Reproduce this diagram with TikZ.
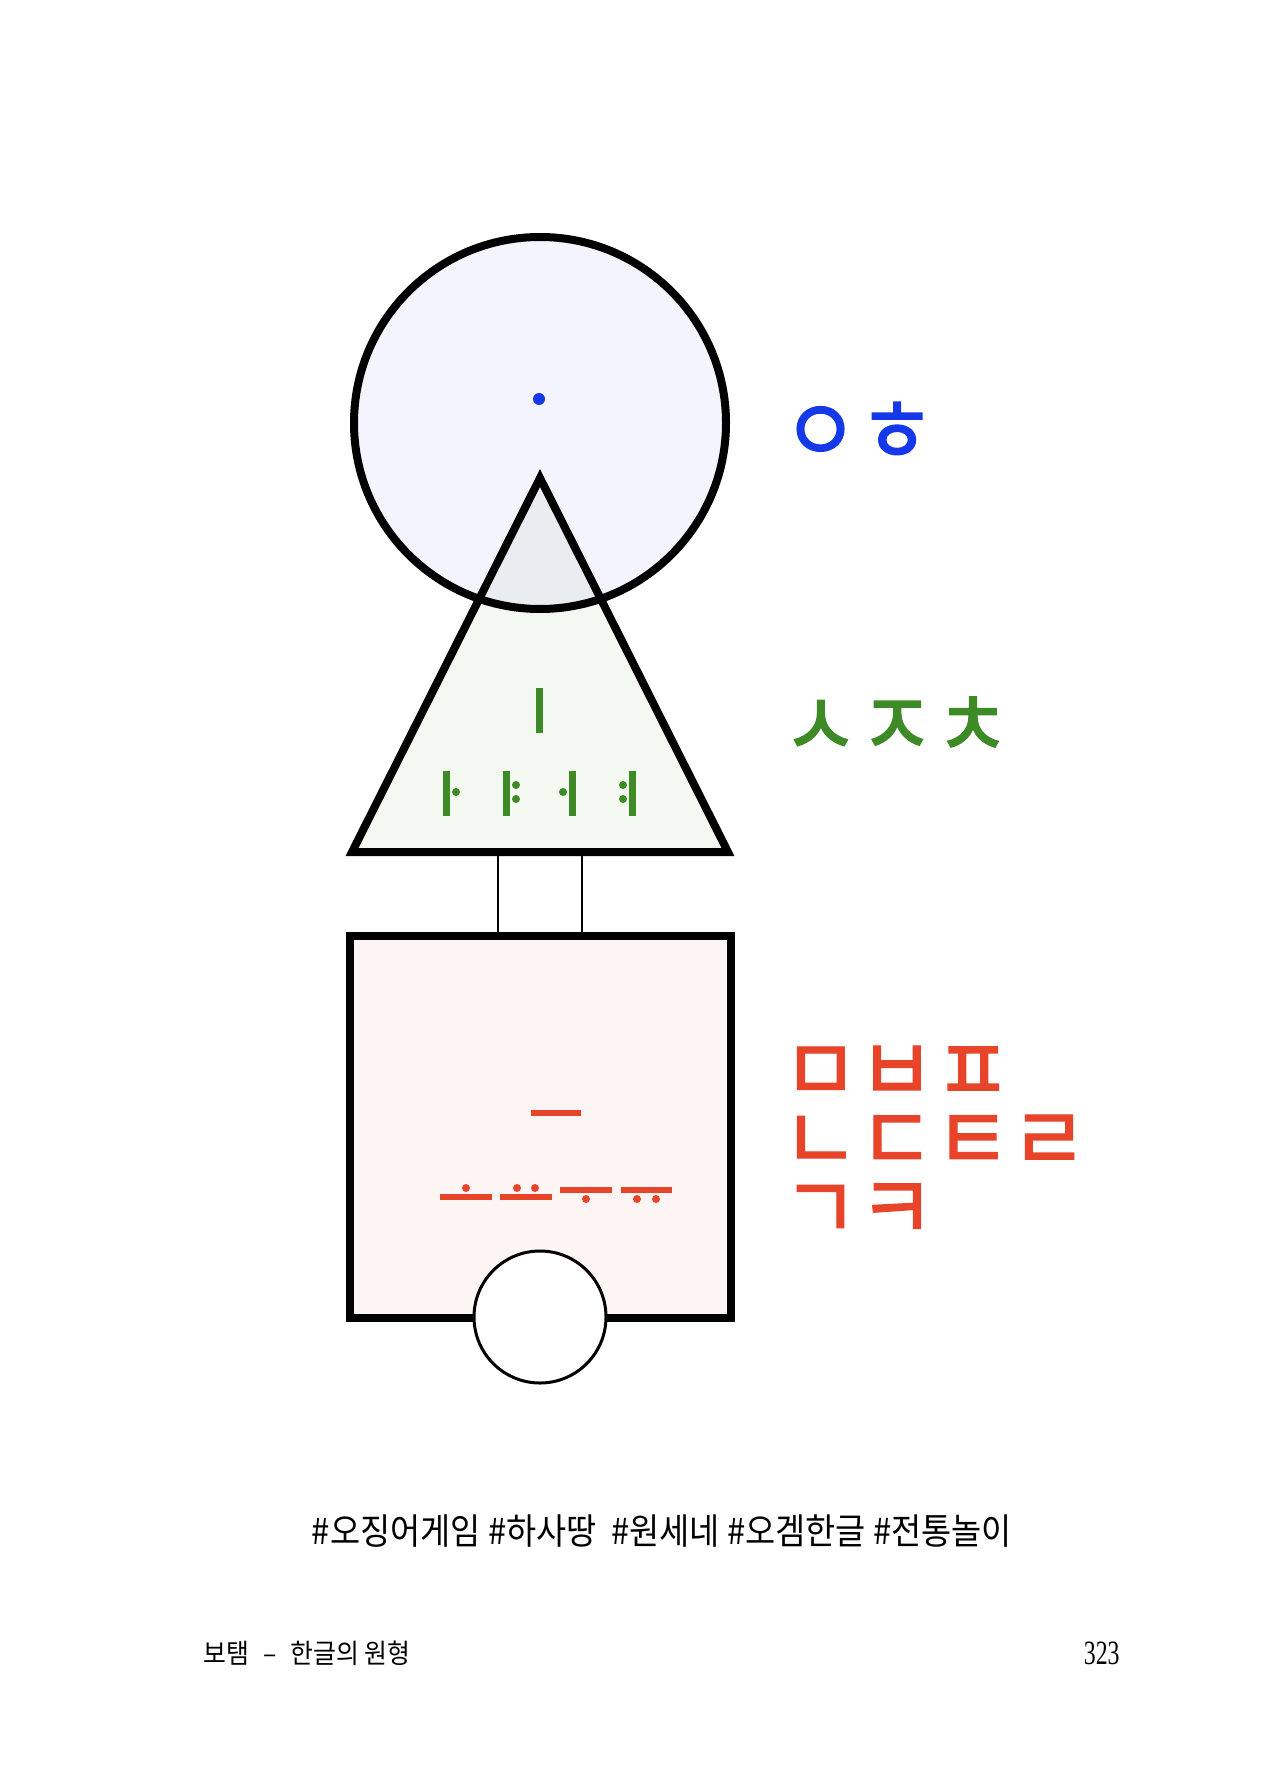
\documentclass[tikz,border=0pt]{standalone}
\usepackage{fontspec}
\setmainfont{Noto Sans CJK KR}
\newfontfamily\jamofont[FakeStretch=0.92,FakeBold=1.5]{Noto Sans CJK KR}
\newfontfamily\tagfont[FakeStretch=0.91]{Noto Sans CJK KR}
\newfontfamily\headfont[FakeStretch=0.92]{Noto Sans CJK KR}
\newfontfamily\pagefont[FakeStretch=0.7]{Liberation Serif}
\pgfdeclarelayer{background}
\pgfsetlayers{background,main}
\definecolor{jamoblue}{HTML}{1538E8}
\definecolor{jamogreen}{HTML}{3E8A26}
\definecolor{jamored}{HTML}{E8442A}
\definecolor{headfill}{HTML}{F3F4FD}
\definecolor{bodyfill}{HTML}{F3F8F1}
\definecolor{mixfill}{HTML}{E9EDF0}
\definecolor{footfill}{HTML}{FDF5F3}
\tikzset{
   outline/.style ={
      draw=black, line width=4pt, line join=miter,
   },
   link/.style ={
      -, line width=1pt, color=black,
   },
   jamo/.style ={
      font=\jamofont\fontsize{45pt}{34.5pt}\selectfont,
      inner sep=0pt, anchor=base west,
      text height=24pt, text depth=0pt,
   },
   greenbar/.style ={
      line width=3.5pt, color=jamogreen,
   },
   redbar/.style ={
      line width=3pt, color=jamored,
   },
}

\begin{document}
\begin{tikzpicture}[x=0.5pt,y=-0.5pt]

      \useasboundingbox (0,0) rectangle (1280,1791);

      % sky: circle
      \node[
         circle,
         outline,
         inner sep=0pt,
         minimum size=186pt,
      ] (head) at (540,423){};

      % person: triangle
      \coordinate (apex) at (540,478);
      \coordinate (tri-l) at (352,852);
      \coordinate (tri-r) at (728,852);
      \draw[outline] (apex) -- (tri-l) -- (tri-r) -- cycle;

      % earth: square
      \node[
         rectangle,
         outline,
         fill=footfill,
         inner sep=0pt,
         minimum width=190.5pt,
         minimum height=191pt,
      ] (foot) at (540.5,1127){};

      \node[
         circle,
         draw,
         fill=white,
         line width=1.5pt,
         inner sep=0pt,
         minimum size=66pt,
      ] (hole) at (540,1317){};

      \begin{pgfonlayer}{background}
         \fill[headfill] (head.center) circle (93pt);
         \fill[bodyfill] (apex) -- (tri-l) -- (tri-r) -- cycle;
         \begin{scope}
            \clip (head.center) circle (93pt);
            \fill[mixfill] (apex) -- (tri-l) -- (tri-r) -- cycle;
         \end{scope}
      \end{pgfonlayer}

      % legs
      \coordinate (leg-l) at (498,852);
      \coordinate (leg-r) at (582,852);
      \draw[link] (leg-l) -- (leg-l |- foot.north);
      \draw[link] (leg-r) -- (leg-r |- foot.north);

      % vowel marks
      \fill[jamoblue] (539,399) circle (3pt);

      \draw[greenbar] (539,688) -- (539,733);
      \foreach \x in {446,506,572,632}
         \draw[greenbar] (\x,771) -- (\x,816);
      \fill[jamogreen] (456,792) circle (2pt);
      \fill[jamogreen] (516,785) circle (2pt) (516,799) circle (2pt);
      \fill[jamogreen] (563,792) circle (2pt);
      \fill[jamogreen] (623,785) circle (2pt) (623,799) circle (2pt);

      \draw[redbar] (531,1113) -- (581,1113);
      \draw[redbar] (440,1197) -- (492,1197);
      \draw[redbar] (500,1197) -- (552,1197);
      \draw[redbar] (560,1190) -- (612,1190);
      \draw[redbar] (621,1190) -- (672,1190);
      \fill[jamored] (466,1188) circle (2pt);
      \fill[jamored] (517,1188) circle (2pt) (535,1188) circle (2pt);
      \fill[jamored] (586,1199) circle (2pt);
      \fill[jamored] (637,1199) circle (2pt) (656,1199) circle (2pt);

      % consonant labels
      \node[jamo, text=jamoblue] (sky-cons) at (782,463){ㅇㅎ};
      \node[jamo, text=jamogreen] (man-cons) at (782,757){ㅅㅈㅊ};
      \node[jamo, text=jamored] (earth-lips) at (782,1102){ㅁㅂㅍ};
      \node[jamo, text=jamored] (earth-tongue) at (782,1171){ㄴㄷㅌㄹ};
      \node[jamo, text=jamored] (earth-root) at (782,1240){ㄱㅋ};

      % captions
      \node[
         font=\tagfont\fontsize{18pt}{20pt}\selectfont,
         inner sep=0pt,
         anchor=base,
      ] (tags) at (662,1544){\#오징어게임 \#하사땅\ \ \#원세네 \#오겜한글 \#전통놀이};

      \node[
         font=\headfont\fontsize{13.5pt}{15pt}\selectfont,
         inner sep=0pt,
         anchor=base west,
      ] (runhead) at (203,1663){보탬\hspace{7pt}–\hspace{7pt}한글의 원형};

      \node[
         font=\pagefont\fontsize{17pt}{18pt}\selectfont,
         inner sep=0pt,
         anchor=base east,
      ] (folio) at (1120,1664){323};

   \end{tikzpicture}
\end{document}
